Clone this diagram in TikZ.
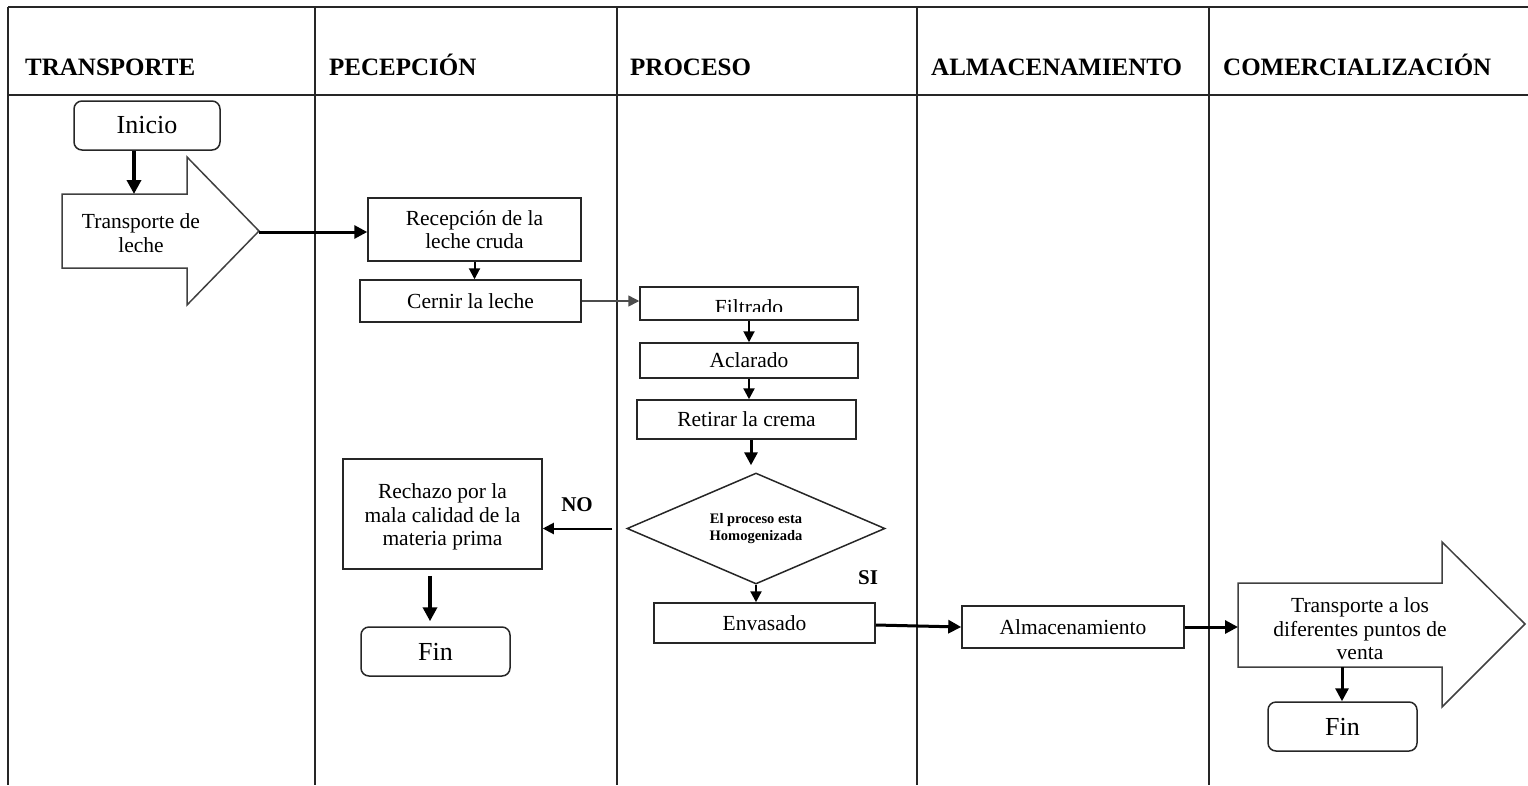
\documentclass[tikz,border=0pt]{standalone}
\usepackage{fontspec}
\setmainfont{Liberation Serif}
\usetikzlibrary{arrows.meta,shapes.geometric,calc}

\newcommand\txtbody{\fontsize{21.5pt}{23.5pt}\selectfont}
\newcommand\txtbig{\fontsize{26pt}{28pt}\selectfont}
\newcommand\txthead{\fontsize{25pt}{28pt}\selectfont\bfseries}
\newcommand\txtsmall{\fontsize{14.5pt}{17pt}\selectfont\bfseries}
\newcommand\txtlabel{\fontsize{21pt}{23pt}\selectfont\bfseries}

\tikzset{
  lane/.style={line width=1.6pt, draw=black!85},
  box/.style={draw=black!85, line width=1.5pt, rectangle, inner sep=0pt, align=center, font=\txtbody},
  term/.style={box, rounded corners=8pt, font=\txtbig},
  bigarrow/.style={draw=black!75, line width=1.5pt, line join=miter},
  heavy/.style={line width=4pt, -{Triangle[length=14pt,width=14pt]}},
  medium/.style={line width=3pt, -{Triangle[length=13pt,width=13pt]}},
  light/.style={line width=2pt, -{Triangle[length=11pt,width=11pt]}},
  hair/.style={line width=1.5pt, draw=black!70, -{Triangle[length=11pt,width=11pt]}},
  headtext/.style={anchor=base west, inner sep=0pt, font=\txthead},
  flag/.style={inner sep=0pt, font=\txtlabel}
}

\begin{document}
\begin{tikzpicture}[x=1pt, y=-1pt]
\useasboundingbox (0,0) rectangle (1528,785);

% swimlane frame
\draw[lane] (8,7) -- (1528,7);
\draw[lane] (8,95) -- (1528,95);
\foreach \lx in {8,315,617,917,1209}
  \draw[lane] (\lx,7) -- (\lx,785);

% lane titles
\node[headtext] (h1) at (25,75) {TRANSPORTE};
\node[headtext] (h2) at (329,75) {PECEPCIÓN};
\node[headtext] (h3) at (630,75) {PROCESO};
\node[headtext] (h4) at (931,75) {ALMACENAMIENTO};
\node[headtext] (h5) at (1223,75) {COMERCIALIZACIÓN};

% transport lane
\node[term, minimum width=146pt, minimum height=49pt] (inicio) at (147,125.5) {Inicio};
\draw[bigarrow] (62,194) -- (187,194) -- (187,157) -- (259,231) -- (187,305) -- (187,268) -- (62,268) -- cycle;
\coordinate (ta-top) at (134,194);
\coordinate (ta-tip) at (259,232);
\node[font=\txtbody, align=center, inner sep=0pt] (ta) at (141,233) {Transporte de\\leche};

% reception lane
\node[box, minimum width=213pt, minimum height=63pt] (recep) at (474.5,229.5) {Recepción de la\\leche cruda};
\node[box, minimum width=221pt, minimum height=42pt] (cernir) at (470.5,301) {Cernir la leche};
\node[box, minimum width=199pt, minimum height=110pt] (rechazo) at (442.5,514) {};
\node[font=\txtbody, align=center, inner sep=0pt] (rechazotxt) at (442.5,517) {Rechazo por la\\mala calidad de la\\materia prima};
\node[term, minimum width=149pt, minimum height=49pt] (fin1) at (435.5,651.5) {Fin};

% process lane
\node[box, minimum width=218pt, minimum height=33pt] (filtrado) at (749,303.5) {};
\begin{scope}
  \clip (640,287) rectangle (858,311);
  \node[font=\txtbody, anchor=base, inner sep=0pt] (filtradotxt) at (749,314) {Filtrado};
\end{scope}
\node[box, minimum width=218pt, minimum height=35pt] (aclarado) at (749,360.5) {Aclarado};
\node[box, minimum width=219pt, minimum height=39pt] (retirar) at (746.5,419.5) {Retirar la crema};
\node[draw=black!85, line width=1.5pt, diamond, aspect=2.32, inner sep=0pt,
      minimum width=258pt, minimum height=111pt, align=center, font=\txtsmall] (dia) at (756,528.5)
      {El proceso esta\\Homogenizada};
\node[box, minimum width=221pt, minimum height=40pt] (envasado) at (764.5,623) {Envasado};
\node[flag] (lblno) at (577,505) {NO};
\node[flag] (lblsi) at (868,578) {SI};

% storage lane
\node[box, minimum width=222pt, minimum height=42pt] (alm) at (1073,627) {Almacenamiento};

% commercialisation lane
\draw[bigarrow] (1238,583) -- (1442,583) -- (1442,542) -- (1525,624) -- (1442,707) -- (1442,667) -- (1238,667) -- cycle;
\coordinate (tb-left) at (1238,625);
\coordinate (tb-bot) at (1342,667);
\node[font=\txtbody, align=center, inner sep=0pt] (tb) at (1360,629) {Transporte a los\\diferentes puntos de\\venta};
\node[term, minimum width=149pt, minimum height=49pt] (fin2) at (1342.5,726.5) {Fin};

% connectors
\draw[heavy] (ta-top |- inicio.south) -- (ta-top);
\draw[medium] (ta-tip) -- (ta-tip -| recep.west);
\draw[light] (recep.south) -- (recep.south |- cernir.north);
\draw[hair] (cernir.east) -- (cernir.east -| filtrado.west);
\draw[light] (filtrado.south) -- (aclarado.north);
\draw[light, line width=2.3pt] (aclarado.south) -- (aclarado.south |- retirar.north);
\draw[medium, shorten >=7pt] ([xshift=4.5pt]retirar.south) -- ([xshift=4.5pt]retirar.south |- dia.north);
\draw[light, line width=2.3pt] (dia.south) -- (dia.south |- envasado.north);
\draw[light, shorten <=14pt] (dia.west) -- (dia.west -| rechazo.east);
\draw[heavy, line width=4.5pt, shorten <=6pt, shorten >=5pt] ([xshift=-12.5pt]rechazo.south) -- ([xshift=-12.5pt]rechazo.south |- fin1.north);
\draw[medium] ([yshift=-2pt]envasado.east) -- (alm.west);
\draw[medium] (alm.east) -- (alm.east -| tb-left);
\draw[medium] (tb-bot) -- (tb-bot |- fin2.north);

\end{tikzpicture}
\end{document}
